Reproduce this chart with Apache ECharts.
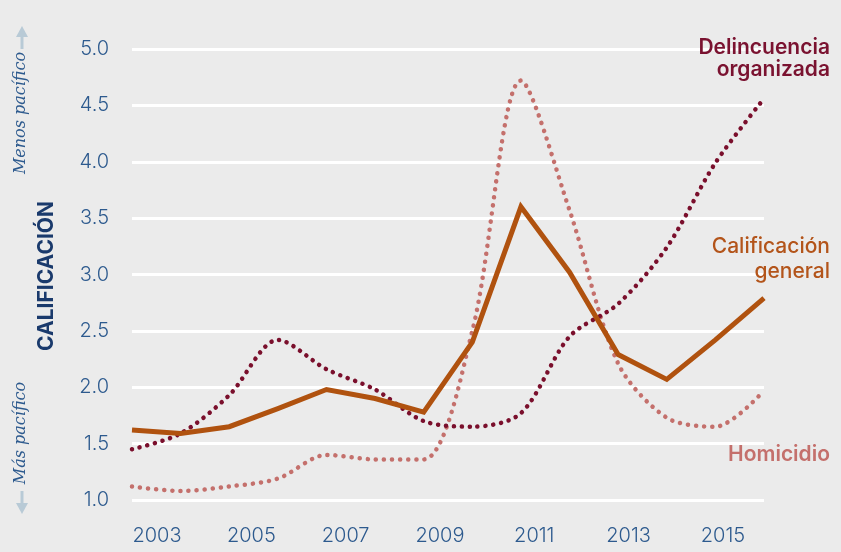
<!DOCTYPE html>
<html>
<head>
<meta charset="utf-8">
<script src="https://cdn.jsdelivr.net/npm/echarts@6/dist/echarts.min.js"></script>
<style>
  html, body { margin: 0; padding: 0; background: #ebebeb; }
  #chart { width: 841px; height: 552px; }
</style>
</head>
<body>
<div id="chart"></div>
<script>
  // años de la serie
  var years = ['2003', '2004', '2005', '2006', '2007', '2008', '2009', '2010', '2011', '2012', '2013', '2014', '2015', '2016'];
  // etiquetas del eje x
  var yearTicks = [2003, 2005, 2007, 2009, 2011, 2013, 2015];

  var calificacionGeneral = [1.62, 1.59, 1.65, 1.81, 1.98, 1.90, 1.78, 2.40, 3.60, 3.02, 2.29, 2.07, 2.42, 2.79];
  var delincuencia = [1.45, 1.59, 1.93, 2.42, 2.16, 1.98, 1.70, 1.65, 1.77, 2.45, 2.74, 3.24, 3.99, 4.56];
  var homicidio = [1.12, 1.08, 1.12, 1.19, 1.40, 1.36, 1.36, 2.50, 4.72, 3.57, 2.21, 1.73, 1.65, 1.97];

  var blue = '#2d5a8e';
  var arrowColor = '#b8cad6';

  var chart = echarts.init(document.getElementById('chart'));
  var option = {
    backgroundColor: '#ebebeb',
    animation: false,
    grid: { left: 132, right: 77, top: 49, bottom: 52 },
    xAxis: [
      {
        type: 'category',
        data: years,
        boundaryGap: false,
        axisLine: { show: false },
        axisTick: { show: false },
        axisLabel: { show: false },
        splitLine: { show: false }
      },
      {
        // solo para las etiquetas, como en el original
        type: 'value',
        min: 2002.47,
        max: 2015.87,
        position: 'bottom',
        axisLine: { show: false },
        axisTick: { show: false },
        splitLine: { show: false },
        axisLabel: {
          customValues: yearTicks,
          color: blue,
          fontFamily: 'Inter',
          fontWeight: 300,
          fontSize: 20,
          margin: 26,
          formatter: function (v) { return String(Math.round(v)); }
        }
      }
    ],
    yAxis: {
      type: 'value',
      min: 1,
      max: 5,
      interval: 0.5,
      axisLine: { show: false },
      axisTick: { show: false },
      axisLabel: {
        color: blue,
        fontFamily: 'Inter',
        fontWeight: 300,
        fontSize: 20,
        margin: 23,
        formatter: function (v) { return v.toFixed(1); }
      },
      splitLine: { lineStyle: { color: '#ffffff', width: 3 } }
    },
    graphic: [
      {
        type: 'text', rotation: Math.PI / 2, x: 47, y: 276, z: 100,
        style: { text: 'CALIFICACIÓN', fill: '#1a3a6c', font: 'bold 21px Inter', textAlign: 'center', textVerticalAlign: 'middle' }
      },
      {
        type: 'text', rotation: Math.PI / 2, x: 21, y: 113, z: 100,
        style: { text: 'Menos pacífico', fill: blue, font: 'italic 16px "DejaVu Serif"', textAlign: 'center', textVerticalAlign: 'middle' }
      },
      {
        type: 'text', rotation: Math.PI / 2, x: 21, y: 433, z: 100,
        style: { text: 'Más pacífico', fill: blue, font: 'italic 16px "DejaVu Serif"', textAlign: 'center', textVerticalAlign: 'middle' }
      },
      { type: 'polygon', z: 100, shape: { points: [[22, 26], [16, 37], [28, 37]] }, style: { fill: arrowColor } },
      { type: 'rect', z: 100, shape: { x: 20.5, y: 36, width: 3, height: 13 }, style: { fill: arrowColor } },
      { type: 'polygon', z: 100, shape: { points: [[22, 514], [16, 503], [28, 503]] }, style: { fill: arrowColor } },
      { type: 'rect', z: 100, shape: { x: 20.5, y: 491, width: 3, height: 13 }, style: { fill: arrowColor } },
      {
        type: 'text', right: 11, top: 37, z: 100,
        style: { text: 'Delincuencia\norganizada', fill: '#7a1230', font: '600 21px Inter', textAlign: 'right', lineHeight: 22 }
      },
      {
        type: 'text', right: 11, top: 234, z: 100,
        style: { text: 'Calificación\ngeneral', fill: '#b3541a', font: '500 21px Inter', textAlign: 'right', lineHeight: 25 }
      },
      {
        type: 'text', right: 11, top: 444, z: 100,
        style: { text: 'Homicidio', fill: '#c4706c', font: '600 21px Inter', textAlign: 'right', lineHeight: 22 }
      }
    ],
    series: [
      {
        name: 'Homicidio',
        type: 'line',
        data: homicidio,
        smooth: 0.3,
        showSymbol: false,
        lineStyle: { color: '#c4706c', width: 4.5, type: [0.1, 8], cap: 'round' }
      },
      {
        name: 'Delincuencia organizada',
        type: 'line',
        data: delincuencia,
        smooth: 0.3,
        showSymbol: false,
        lineStyle: { color: '#7a0f2c', width: 4.5, type: [0.1, 7.8], cap: 'round' }
      },
      {
        name: 'Calificación general',
        type: 'line',
        data: calificacionGeneral,
        showSymbol: false,
        lineStyle: { color: '#b0520f', width: 5, join: 'miter' }
      }
    ]
  };
  chart.setOption(option);
  window.onresize = function () { chart.resize(); };
</script>
</body>
</html>
